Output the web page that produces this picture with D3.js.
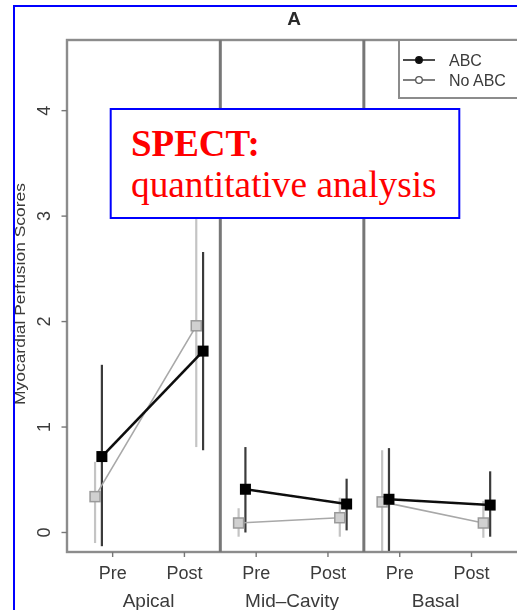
<!DOCTYPE html>
<html>
<head>
<meta charset="utf-8">
<script src="https://cdn.jsdelivr.net/npm/d3@7"></script>
<style>
  html, body { margin: 0; padding: 0; background: #fff; }
  svg { display: block; }
</style>
</head>
<body>
<script>
// Myocardial perfusion scores by LV region, before/after, with and without ABC
const regions = ["Apical", "Mid\u2013Cavity", "Basal"];
const times = ["Pre", "Post"];
const yTicks = [0, 1, 2, 3, 4];

// order: Apical Pre, Apical Post, Mid Pre, Mid Post, Basal Pre, Basal Post
const abcMean = [0.72, 1.72, 0.41, 0.27, 0.315, 0.26];
const abcLow  = [-0.13, 0.78, 0.0, 0.02, -0.3, -0.04];
const abcHigh = [1.59, 2.66, 0.81, 0.51, 0.80, 0.58];

const noAbcMean = [0.34, 1.96, 0.09, 0.14, 0.29, 0.09];
const noAbcLow  = [-0.10, 0.81, -0.04, -0.04, -0.3, -0.05];
const noAbcHigh = [0.67, 3.15, 0.23, 0.33, 0.78, 0.30];

const W = 517, H = 610;
const svg = d3.select("body").append("svg").attr("width", W).attr("height", H);

const defs = svg.append("defs");
defs.append("filter").attr("id", "soft")
  .append("feGaussianBlur").attr("stdDeviation", 0.7);
defs.append("clipPath").attr("id", "plotClip")
  .append("rect").attr("x", 67).attr("y", 40).attr("width", 449).attr("height", 512);

// x in "slot" units: each region takes two slots (Pre=0, Post=1), regions 2 apart
const x = d3.scaleLinear().domain([-0.636, 5.62]).range([67, 516]);
const y = d3.scaleLinear().domain([-0.185, 4.67]).range([552, 40]);

const markerPos = { Pre: -0.15, Post: 1.26 };
const dodge = -0.095;

const rows = [];
regions.forEach((r, i) => times.forEach((t, j) => {
  const k = i * 2 + j;
  rows.push({ region: r, time: t, idx: i, k,
    abc: { m: abcMean[k], lo: abcLow[k], hi: abcHigh[k], u: i * 2 + markerPos[t] },
    no:  { m: noAbcMean[k], lo: noAbcLow[k], hi: noAbcHigh[k], u: i * 2 + markerPos[t] + dodge } });
}));

const chart = svg.append("g").attr("filter", "url(#soft)");

// title
chart.append("text").attr("x", 294).attr("y", 25).attr("text-anchor", "middle")
  .attr("font-family", "Liberation Sans, Arial, sans-serif").attr("font-weight", "bold")
  .attr("font-size", 19).attr("fill", "#2a2a2a").text("A");

const plot = chart.append("g").attr("clip-path", "url(#plotClip)");

// error bars: No ABC (light) then ABC (dark)
plot.selectAll(".errNo").data(rows).join("line")
  .attr("x1", d => x(d.no.u)).attr("x2", d => x(d.no.u))
  .attr("y1", d => y(d.no.lo)).attr("y2", d => y(d.no.hi))
  .attr("stroke", "#c4c4c4").attr("stroke-width", 2.2);

plot.selectAll(".errAbc").data(rows).join("line")
  .attr("x1", d => x(d.abc.u)).attr("x2", d => x(d.abc.u))
  .attr("y1", d => y(d.abc.lo)).attr("y2", d => y(d.abc.hi))
  .attr("stroke", "#3a3a3a").attr("stroke-width", 2.2);

// connecting lines within each region
const line = d3.line().x(d => x(d.u)).y(d => y(d.m));
regions.forEach((r, i) => {
  const pair = rows.filter(d => d.idx === i);
  plot.append("path").attr("d", line(pair.map(d => d.no)))
    .attr("fill", "none").attr("stroke", "#a8a8a8").attr("stroke-width", 1.6);
  plot.append("path").attr("d", line(pair.map(d => d.abc)))
    .attr("fill", "none").attr("stroke", "#111").attr("stroke-width", 2.6);
});

// markers
const S = 11;
plot.selectAll(".ptNo").data(rows).join("rect")
  .attr("x", d => x(d.no.u) - S / 2 + 0.5).attr("y", d => y(d.no.m) - S / 2 + 0.5)
  .attr("width", S - 1).attr("height", S - 1)
  .attr("fill", "#d0d0d0").attr("stroke", "#9a9a9a").attr("stroke-width", 1.5);
plot.selectAll(".ptAbc").data(rows).join("rect")
  .attr("x", d => x(d.abc.u) - S / 2).attr("y", d => y(d.abc.m) - S / 2)
  .attr("width", S).attr("height", S).attr("fill", "#050505");

// frame and region separators
const frame = chart.append("g").attr("stroke", "#8c8c8c").attr("fill", "none");
frame.append("rect").attr("x", 67).attr("y", 40).attr("width", 460).attr("height", 512)
  .attr("stroke-width", 2.4);
[1.5, 3.5].forEach(u => {
  frame.append("line").attr("x1", x(u)).attr("x2", x(u)).attr("y1", 40).attr("y2", 552)
    .attr("stroke", "#777").attr("stroke-width", 3);
});

// y axis
const yAxis = chart.append("g");
yAxis.selectAll("line").data(yTicks).join("line")
  .attr("x1", 61.5).attr("x2", 67).attr("y1", d => y(d)).attr("y2", d => y(d))
  .attr("stroke", "#777").attr("stroke-width", 1.4);
yAxis.selectAll("text").data(yTicks).join("text")
  .attr("transform", d => `translate(50,${y(d)}) rotate(-90)`)
  .attr("text-anchor", "middle")
  .attr("font-family", "Liberation Sans, Arial, sans-serif").attr("font-size", 18)
  .attr("fill", "#3a3a3a").text(d => d);

chart.append("text")
  .attr("transform", "translate(25,294) rotate(-90)")
  .attr("text-anchor", "middle")
  .attr("font-family", "Liberation Sans, Arial, sans-serif").attr("font-size", 14)
  .attr("textLength", 222).attr("lengthAdjust", "spacingAndGlyphs")
  .attr("fill", "#3a3a3a").text("Myocardial Perfusion Scores");

// x axis ticks and labels
const xTicks = [];
regions.forEach((r, i) => times.forEach((t, j) => xTicks.push({ u: i * 2 + j, label: t })));
const xAxis = chart.append("g");
xAxis.selectAll("line").data(xTicks).join("line")
  .attr("x1", d => x(d.u)).attr("x2", d => x(d.u)).attr("y1", 552).attr("y2", 557)
  .attr("stroke", "#777").attr("stroke-width", 1.4);
xAxis.selectAll("text").data(xTicks).join("text")
  .attr("x", d => x(d.u)).attr("y", 579).attr("text-anchor", "middle")
  .attr("font-family", "Liberation Sans, Arial, sans-serif").attr("font-size", 18)
  .attr("fill", "#3a3a3a").text(d => d.label);
xAxis.selectAll(".reg").data(regions).join("text")
  .attr("x", (d, i) => x(i * 2 + 0.5)).attr("y", 607).attr("text-anchor", "middle")
  .attr("font-family", "Liberation Sans, Arial, sans-serif").attr("font-size", 19)
  .attr("fill", "#3a3a3a").text(d => d);

// legend
const legend = chart.append("g");
legend.append("rect").attr("x", 399).attr("y", 40).attr("width", 130).attr("height", 58)
  .attr("fill", "#fff").attr("stroke", "#8c8c8c").attr("stroke-width", 2);
const legendItems = [
  { name: "ABC", color: "#111", fill: "#111" },
  { name: "No ABC", color: "#555", fill: "#fff" }
];
legendItems.forEach((it, i) => {
  const ly = 60 + i * 20;
  legend.append("line").attr("x1", 403).attr("x2", 435).attr("y1", ly).attr("y2", ly)
    .attr("stroke", it.color).attr("stroke-width", 1.5);
  legend.append("circle").attr("cx", 419).attr("cy", ly).attr("r", 3.3)
    .attr("fill", it.fill).attr("stroke", it.color).attr("stroke-width", 1.3);
  legend.append("text").attr("x", 449).attr("y", ly + 6)
    .attr("font-family", "Liberation Sans, Arial, sans-serif").attr("font-size", 16)
    .attr("fill", "#3a3a3a").text(it.name);
});

// slide overlay: outer border and caption box
svg.append("rect").attr("x", 14).attr("y", 6).attr("width", 520).attr("height", 620)
  .attr("fill", "none").attr("stroke", "#0000ff").attr("stroke-width", 2);
svg.append("rect").attr("x", 110.7).attr("y", 109).attr("width", 348.6).attr("height", 109)
  .attr("fill", "#fff").attr("stroke", "#0000ff").attr("stroke-width", 2);
svg.append("text").attr("x", 131).attr("y", 156)
  .attr("font-family", "Liberation Serif, Times New Roman, serif").attr("font-weight", "bold")
  .attr("font-size", 37).attr("fill", "#ff0000").text("SPECT:");
svg.append("text").attr("x", 131).attr("y", 197)
  .attr("font-family", "Liberation Serif, Times New Roman, serif")
  .attr("font-size", 37.3).attr("fill", "#ff0000").text("quantitative analysis");
</script>
</body>
</html>
